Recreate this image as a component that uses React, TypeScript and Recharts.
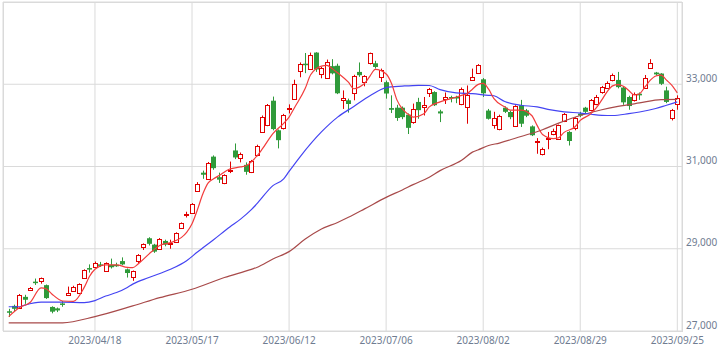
import React from "react";
import { ComposedChart, Bar, Line, XAxis, YAxis, CartesianGrid } from "recharts";

const opens = [27480,27610,27570,27830,28000,28200,28210,28115,27585,27550,27670,27880,27980,27935,28300,28530,28550,28620,28455,28610,28610,28700,28500,28320,28690,29040,29255,29100,29000,29190,29120,29170,29510,29820,29880,30400,30850,30700,31240,30740,30600,30900,31390,31200,31040,30860,31280,31850,32000,32600,31880,31930,32400,32650,33320,33500,33380,33770,33260,33160,33440,33450,32610,32610,32790,33300,33055,33510,33510,33170,33050,32420,32430,32430,32260,32070,32570,32450,32790,32810,32340,32650,32690,32690,32510,32440,33110,33270,33120,32360,32020,31920,32430,32325,31980,32490,32365,31975,31610,31300,31680,31780,31680,32105,31840,31930,32285,32430,32365,32510,32800,32920,33095,33105,32920,32690,32610,32770,32920,33400,33285,33260,32850,32190,32510];
const highs = [27540,27640,27900,27880,28070,28275,28300,28130,27600,27570,27730,28080,28100,28160,28500,28620,28690,28680,28670,28760,28660,28790,28520,28470,28870,29130,29280,29120,29260,29220,29220,29400,29640,29900,30110,30620,30900,31110,31270,30850,30810,31120,31560,31340,31100,31160,31530,32240,32520,32700,31900,32280,32510,33110,33530,33760,33770,33780,33420,33600,33610,33500,32850,32650,33230,33530,33220,33770,33570,33380,33090,32730,32500,32460,32290,32530,32670,32690,32910,32830,32380,32800,32720,32720,32920,32970,33380,33490,33150,32400,32330,32260,32460,32360,32490,32620,32400,32000,31690,31460,31840,31920,32020,32300,31860,32200,32330,32450,32640,32740,32960,33070,33260,33300,32950,32720,32800,32800,33225,33610,33300,33270,32940,32400,32730];
const lows = [27340,27480,27540,27660,27980,28120,28150,27780,27430,27460,27590,27860,27950,27920,28290,28420,28530,28560,28440,28520,28560,28600,28300,28220,28650,28970,29080,28900,28980,29060,29000,29150,29480,29760,29860,30380,30700,30680,30920,30600,30570,30840,31180,31100,30800,30840,31250,31820,31980,31880,31440,31900,32290,32620,33170,33270,33350,33300,33145,33140,33240,32760,32400,32310,32610,33180,32950,33480,33380,33055,32650,32300,32110,32150,31790,32040,32160,32240,32690,32470,32080,32520,32560,32540,32490,32040,33080,33250,32690,32140,31920,31880,32300,32150,31960,31960,32200,31740,31310,31270,31420,31760,31660,32080,31510,31880,32200,32290,32340,32490,32770,32900,33070,32900,32500,32380,32580,32620,32900,33380,33210,32980,32540,32120,32380];
const closes = [27460,27540,27870,27760,28050,28180,28285,27800,27470,27500,27640,27930,28070,28140,28490,28510,28650,28600,28650,28550,28590,28620,28410,28460,28845,29120,29120,28930,29230,29100,29140,29390,29620,29840,30090,30580,30800,31075,30960,30680,30790,30920,31220,31310,30870,31145,31500,32210,32500,31910,31640,32260,32430,33010,33500,33480,33700,33360,33390,33550,33265,32780,32675,32520,33190,33220,33190,33750,33420,33340,32775,32380,32180,32200,31940,32390,32370,32490,32890,32490,32290,32690,32660,32660,32890,32750,33170,33470,32780,32160,32185,32240,32330,32200,32460,32040,32235,31760,31630,31420,31700,31860,32000,32285,31620,32170,32240,32330,32610,32690,32935,33020,33225,32930,32560,32470,32770,32730,33160,33510,33240,33010,32570,32370,32660];

// moving averages: [candle index, value]
const ma5: [number, number][] = [[0,27350],[2,27570],[4,27700],[6,28050],[7,28020],[8,27900],[10,27730],[12,27720],[14,28060],[15,28330],[16,28500],[18,28610],[20,28610],[22,28545],[23,28540],[24,28630],[26,28870],[28,29080],[30,29150],[32,29270],[33,29400],[34,29610],[35,29950],[36,30330],[37,30600],[38,30700],[39,30780],[41,30940],[43,30990],[44,31020],[46,31250],[47,31420],[49,31800],[51,32050],[52,32200],[53,32430],[55,32900],[56,33230],[58,33440],[59,33460],[60,33380],[61,33280],[63,33050],[64,32890],[65,32930],[66,33020],[67,33200],[68,33360],[70,33250],[71,33020],[72,32620],[73,32400],[74,32280],[75,32200],[77,32285],[78,32450],[80,32570],[82,32650],[84,32730],[85,32770],[86,32880],[87,32990],[88,33020],[89,32880],[90,32650],[92,32450],[93,32370],[95,32370],[97,32240],[98,32000],[99,31780],[101,31680],[102,31700],[103,31830],[105,31960],[106,32120],[108,32285],[109,32430],[110,32620],[111,32820],[112,32960],[113,32990],[114,32950],[115,32850],[116,32740],[117,32770],[118,32935],[119,33100],[120,33200],[121,33220],[122,33100],[123,32975],[124,32790]];
const ma25: [number, number][] = [[0,27590],[2,27590],[3,27630],[6,27700],[10,27700],[14,27690],[16,27740],[18,27850],[20,27935],[22,28060],[23,28140],[26,28300],[30,28500],[33,28710],[35,28920],[38,29220],[41,29530],[43,29720],[45,29950],[46,30090],[49,30535],[51,30700],[52,30880],[54,31230],[58,31840],[61,32200],[64,32460],[67,32720],[70,32920],[73,32955],[76,32975],[78,32970],[80,32870],[83,32790],[86,32770],[89,32730],[90,32720],[92,32580],[95,32490],[98,32450],[100,32390],[103,32330],[106,32300],[108,32270],[111,32240],[112,32240],[115,32285],[117,32325],[120,32410],[122,32490],[124,32570]];
const ma75: [number, number][] = [[0,27200],[10,27200],[16,27350],[23,27610],[28,27810],[34,28015],[40,28300],[45,28500],[46,28545],[49,28750],[52,28930],[55,29235],[58,29480],[61,29640],[63,29765],[66,29970],[70,30250],[73,30430],[75,30560],[78,30740],[80,30900],[84,31150],[86,31350],[87,31400],[89,31510],[91,31570],[95,31730],[99,31895],[102,32055],[106,32240],[110,32380],[113,32460],[117,32545],[121,32625],[124,32630]];

const tickIdx = [16, 34, 52, 70, 88, 106, 124];
const tickLabels = ["2023/04/18", "2023/05/17", "2023/06/12", "2023/07/06", "2023/08/02", "2023/08/29", "2023/09/25"];
const yTicks = [27000, 29000, 31000, 33000];

const m5 = new Map(ma5);
const m25 = new Map(ma25);
const m75 = new Map(ma75);

const data = opens.map((o, i) => ({
  i,
  o,
  h: highs[i],
  l: lows[i],
  c: closes[i],
  range: [lows[i], highs[i]],
  m5: m5.has(i) ? m5.get(i) : null,
  m25: m25.has(i) ? m25.get(i) : null,
  m75: m75.has(i) ? m75.get(i) : null,
}));

const UP = "#e00000";
const DOWN = "#2f9a3a";
const LABEL = "#6f7c91";
const GRID = "#dadada";

const Candle = (props: any) => {
  const { x, y, width, height, payload } = props;
  if (x == null || y == null || !payload) return null;
  const top = Math.min(y, y + height);
  const hh = Math.abs(height);
  const { o, h, l, c } = payload;
  const span = h - l || 1;
  const py = (v: number) => top + ((h - v) / span) * hh;
  const cx = Math.floor(x + width / 2) + 0.5;
  const up = c >= o;
  const yo = py(o);
  const yc = py(c);
  const bt = Math.min(yo, yc);
  const bb = Math.max(yo, yc);
  const col = up ? UP : DOWN;
  if (up) {
    const rt = Math.round(bt) + 0.5;
    const rh = Math.max(Math.round(bb) - Math.round(bt), 1);
    return (
      <g>
        <line x1={cx} x2={cx} y1={top} y2={top + hh} stroke={col} strokeWidth={1} />
        <rect x={cx - 2} y={rt} width={4} height={rh} fill="#ffffff" stroke={col} strokeWidth={1} />
      </g>
    );
  }
  return (
    <g>
      <line x1={cx} x2={cx} y1={top} y2={top + hh} stroke={col} strokeWidth={1} />
      <rect x={cx - 2.5} y={bt} width={5} height={Math.max(bb - bt, 1.5)} fill={col} />
    </g>
  );
};

const XTick = (props: any) => {
  const { x, payload } = props;
  const k = tickIdx.indexOf(payload.value);
  return (
    <text x={x} y={340} textAnchor="middle" dominantBaseline="central" fill={LABEL} fontSize={10} fontFamily="Noto Sans">
      {k >= 0 ? tickLabels[k] : ""}
    </text>
  );
};

const YTick = (props: any) => {
  const { y, payload } = props;
  return (
    <text x={686} y={y - 6.5} textAnchor="start" dominantBaseline="central" fill={LABEL} fontSize={10} fontFamily="Noto Sans">
      {Number(payload.value).toLocaleString("en-US")}
    </text>
  );
};

export default function App() {
  return (
    <div style={{ position: "absolute", left: 0, top: 0, width: 723, height: 353, background: "#fff" }}>
      <ComposedChart width={723} height={353} data={data} margin={{ top: 2, right: 0, left: 3, bottom: 0 }}>
        <CartesianGrid stroke={GRID} strokeWidth={1} />
        <XAxis
          dataKey="i"
          type="category"
          ticks={tickIdx}
          interval={0}
          padding={{ left: 3, right: 2 }}
          height={22}
          axisLine={false}
          tickLine={false}
          tick={<XTick />}
        />
        <YAxis
          orientation="right"
          width={41}
          domain={[27000, 35000]}
          ticks={yTicks}
          type="number"
          axisLine={false}
          tickLine={false}
          tick={<YTick />}
        />
        <Bar dataKey="range" barSize={4} shape={<Candle />} isAnimationActive={false} />
        <Line dataKey="m75" type="monotone" stroke="#a84a4a" strokeWidth={1.2} dot={false} connectNulls isAnimationActive={false} />
        <Line dataKey="m25" type="monotone" stroke="#4444f2" strokeWidth={1.2} dot={false} connectNulls isAnimationActive={false} />
        <Line dataKey="m5" type="monotone" stroke="#f23c3c" strokeWidth={1.2} dot={false} connectNulls isAnimationActive={false} />
      </ComposedChart>
      <div
        style={{
          position: "absolute",
          left: 3,
          top: 2,
          width: 680,
          height: 330,
          boxSizing: "border-box",
          border: `1px solid ${GRID}`,
          pointerEvents: "none",
        }}
      />
    </div>
  );
}
